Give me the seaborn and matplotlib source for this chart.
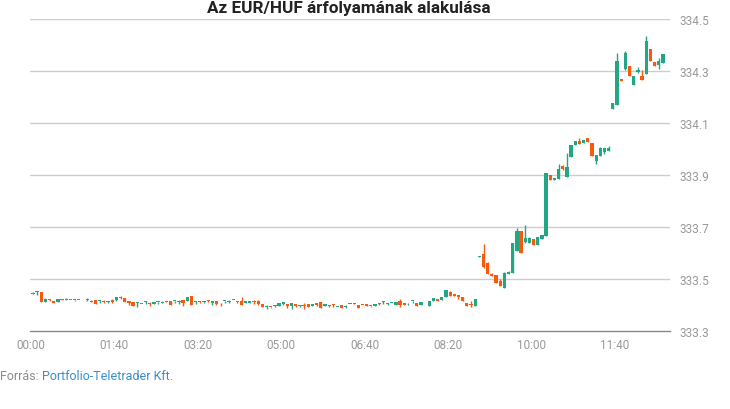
import pandas as pd
import numpy as np
import matplotlib.pyplot as plt
import seaborn as sns

# 5-minute EUR/HUF candles, 00:00 - 12:35 (bar 01:00 missing -> None)
opens = [333.444, 333.451, 333.450, 333.413, 333.422, 333.417, 333.411, 333.422, 333.421, 333.420,
         333.418, 333.419, None, 333.421, 333.417, 333.419, 333.414, 333.414, 333.411, 333.418,
         333.419, 333.429, 333.427, 333.417, 333.412, 333.406, 333.405, 333.413, 333.407, 333.404,
         333.411, 333.406, 333.414, 333.417, 333.415, 333.410, 333.419, 333.417, 333.434, 333.412,
         333.415, 333.411, 333.418, 333.406, 333.417, 333.404, 333.415, 333.412, 333.419, 333.414,
         333.414, 333.409, 333.408, 333.415, 333.414, 333.404, 333.392, 333.392, 333.395, 333.395,
         333.405, 333.402, 333.397, 333.404, 333.396, 333.400, 333.404, 333.396, 333.408, 333.413,
         333.397, 333.399, 333.401, 333.393, 333.399, 333.392, 333.403, 333.406, 333.401, 333.401,
         333.404, 333.398, 333.395, 333.405, 333.412, 333.404, 333.407, 333.401, 333.414, 333.406,
         333.406, 333.415, 333.408, 333.401, 333.406, 333.397, 333.414, 333.423, 333.420, 333.432,
         333.449, 333.442, 333.440, 333.432, 333.408, 333.402, 333.397, 333.586, 333.596, 333.562,
         333.519, 333.515, 333.492, 333.465, 333.520, 333.523, 333.609, 333.686, 333.643, 333.638,
         333.654, 333.632, 333.654, 333.667, 333.900, 333.882, 333.885, 333.935, 333.893, 333.970,
         334.015, 334.030, 334.022, 334.042, 334.023, 333.955, 333.973, 333.987, 333.992, 334.154,
         334.169, 334.269, 334.308, 334.319, 334.247, 334.295, 334.281, 334.288, 334.385, 334.335,
         334.323, 334.331]
highs = [333.451, 333.454, 333.450, 333.427, 333.424, 333.417, 333.424, 333.422, 333.427, 333.420,
         333.420, 333.419, None, 333.427, 333.418, 333.419, 333.419, 333.420, 333.417, 333.423,
         333.432, 333.433, 333.427, 333.417, 333.412, 333.412, 333.405, 333.415, 333.410, 333.411,
         333.413, 333.414, 333.414, 333.417, 333.417, 333.419, 333.419, 333.432, 333.434, 333.414,
         333.417, 333.417, 333.420, 333.417, 333.417, 333.406, 333.417, 333.419, 333.419, 333.414,
         333.430, 333.417, 333.417, 333.419, 333.418, 333.404, 333.401, 333.392, 333.400, 333.408,
         333.413, 333.404, 333.408, 333.404, 333.401, 333.408, 333.404, 333.404, 333.409, 333.413,
         333.404, 333.400, 333.404, 333.394, 333.399, 333.401, 333.404, 333.406, 333.401, 333.401,
         333.404, 333.398, 333.404, 333.406, 333.414, 333.406, 333.408, 333.410, 333.422, 333.406,
         333.408, 333.417, 333.408, 333.410, 333.407, 333.417, 333.427, 333.423, 333.432, 333.458,
         333.455, 333.442, 333.440, 333.432, 333.408, 333.414, 333.423, 333.590, 333.635, 333.564,
         333.523, 333.515, 333.500, 333.526, 333.531, 333.638, 333.696, 333.686, 333.708, 333.660,
         333.654, 333.660, 333.669, 333.907, 333.900, 333.888, 333.942, 333.938, 333.985, 334.015,
         334.032, 334.042, 334.035, 334.042, 334.023, 333.977, 334.008, 334.004, 334.012, 334.177,
         334.370, 334.269, 334.377, 334.319, 334.281, 334.315, 334.304, 334.433, 334.385, 334.335,
         334.350, 334.365]
lows = [333.443, 333.440, 333.413, 333.413, 333.417, 333.408, 333.411, 333.420, 333.420, 333.418,
        333.417, 333.418, None, 333.417, 333.410, 333.404, 333.408, 333.409, 333.409, 333.409,
        333.417, 333.422, 333.412, 333.401, 333.397, 333.393, 333.403, 333.404, 333.397, 333.403,
        333.404, 333.406, 333.412, 333.401, 333.406, 333.404, 333.397, 333.417, 333.401, 333.404,
        333.406, 333.409, 333.412, 333.401, 333.401, 333.397, 333.408, 333.409, 333.418, 333.406,
        333.401, 333.409, 333.408, 333.404, 333.401, 333.394, 333.385, 333.390, 333.393, 333.395,
        333.401, 333.388, 333.385, 333.393, 333.393, 333.385, 333.393, 333.396, 333.397, 333.388,
        333.396, 333.393, 333.393, 333.393, 333.388, 333.388, 333.403, 333.405, 333.388, 333.400,
        333.396, 333.391, 333.395, 333.401, 333.404, 333.401, 333.407, 333.400, 333.393, 333.400,
        333.401, 333.406, 333.397, 333.401, 333.406, 333.397, 333.414, 333.417, 333.420, 333.432,
        333.436, 333.433, 333.423, 333.414, 333.396, 333.391, 333.396, 333.586, 333.542, 333.519,
        333.513, 333.485, 333.474, 333.465, 333.520, 333.523, 333.609, 333.600, 333.640, 333.638,
        333.632, 333.632, 333.654, 333.667, 333.882, 333.882, 333.885, 333.920, 333.893, 333.970,
        334.015, 334.019, 334.022, 334.028, 333.974, 333.942, 333.973, 333.981, 333.992, 334.154,
        334.169, 334.262, 334.305, 334.282, 334.247, 334.292, 334.267, 334.288, 334.340, 334.320,
        334.308, 334.331]
closes = [333.447, 333.453, 333.413, 333.423, 333.419, 333.408, 333.423, 333.420, 333.424, 333.418,
          333.419, 333.418, None, 333.423, 333.411, 333.404, 333.416, 333.412, 333.415, 333.410,
          333.432, 333.427, 333.412, 333.408, 333.397, 333.412, 333.404, 333.414, 333.405, 333.410,
          333.413, 333.412, 333.412, 333.401, 333.417, 333.414, 333.406, 333.432, 333.401, 333.414,
          333.413, 333.416, 333.416, 333.414, 333.404, 333.402, 333.417, 333.416, 333.418, 333.412,
          333.401, 333.417, 333.416, 333.413, 333.405, 333.394, 333.397, 333.391, 333.398, 333.408,
          333.413, 333.398, 333.408, 333.398, 333.401, 333.398, 333.394, 333.404, 333.399, 333.390,
          333.404, 333.397, 333.399, 333.394, 333.388, 333.396, 333.404, 333.405, 333.390, 333.400,
          333.396, 333.396, 333.404, 333.403, 333.414, 333.406, 333.408, 333.410, 333.401, 333.401,
          333.408, 333.417, 333.397, 333.410, 333.407, 333.417, 333.427, 333.417, 333.432, 333.458,
          333.436, 333.433, 333.430, 333.414, 333.396, 333.400, 333.423, 333.590, 333.546, 333.519,
          333.513, 333.485, 333.474, 333.523, 333.528, 333.638, 333.686, 333.600, 333.658, 333.658,
          333.632, 333.660, 333.669, 333.907, 333.882, 333.888, 333.923, 333.923, 333.931, 334.015,
          334.030, 334.019, 334.035, 334.028, 333.974, 333.977, 334.005, 334.004, 334.005, 334.177,
          334.340, 334.262, 334.369, 334.282, 334.281, 334.304, 334.267, 334.414, 334.340, 334.320,
          334.338, 334.365]

times = pd.date_range("2024-01-01 00:00", periods=len(opens), freq="5min")
df = pd.DataFrame({"time": times, "open": opens, "high": highs, "low": lows, "close": closes}).dropna()
df["minute"] = (df["time"] - times[0]).dt.total_seconds() / 60 + 2.5
df["up"] = df["close"] >= df["open"]

UP = "#22a684"
DOWN = "#f65a0c"

sns.set_theme(style="white")
plt.rcParams["font.family"] = ["Roboto", "DejaVu Sans"]

fig = plt.figure(figsize=(7.3, 4.1), dpi=100)
ax = fig.add_axes([30 / 730, 1 - 332 / 410, 640 / 730, 312 / 410])

colors = np.where(df["up"], UP, DOWN)
body_low = df[["open", "close"]].min(axis=1)
body_h = (df["close"] - df["open"]).abs().clip(lower=0.0035)
ax.vlines(df["minute"], df["low"], df["high"], colors=colors, lw=1, zorder=3)
ax.bar(df["minute"], body_h, bottom=body_low, width=3.9, color=colors, zorder=4, linewidth=0)

yt = [333.3, 333.5, 333.7, 333.9, 334.1, 334.3, 334.5]
ax.set_ylim(333.3, 334.5)
ax.set_yticks(yt)
ax.set_yticklabels([f"{v:.1f}" for v in yt])
for v in yt[1:]:
    ax.axhline(v, color="#cccccc", lw=1, zorder=1)

xt = list(range(0, 701, 100))
ax.set_xlim(-1, 766)
ax.set_xticks(xt)
ax.set_xticklabels([f"{m // 60:02d}:{m % 60:02d}" for m in xt])

ax.yaxis.tick_right()
ax.tick_params(axis="y", length=0, pad=7, labelsize=8.5, labelcolor="#999999")
ax.tick_params(axis="x", length=0, pad=5, labelsize=8.5, labelcolor="#999999")
ax.grid(False)
sns.despine(ax=ax, left=True, right=True, top=True)
ax.spines["bottom"].set_color("#8a8a8a")
ax.spines["bottom"].set_linewidth(1)

fig.text(349 / 730, 1 - 9 / 410, "Az EUR/HUF árfolyamának alakulása", ha="center", va="center",
         fontsize=12.3, fontweight="bold", color="#222222")

src = fig.text(0.0, 1 - 377 / 410, "Forrás: ", ha="left", va="center", fontsize=9, color="#8a8a8a")
ax.annotate("Portfolio-Teletrader Kft.", xy=(1, 0), xycoords=src, va="bottom", ha="left",
            fontsize=9, color="#3a8ec6", annotation_clip=False)

fig.savefig("out.png", dpi=100)
